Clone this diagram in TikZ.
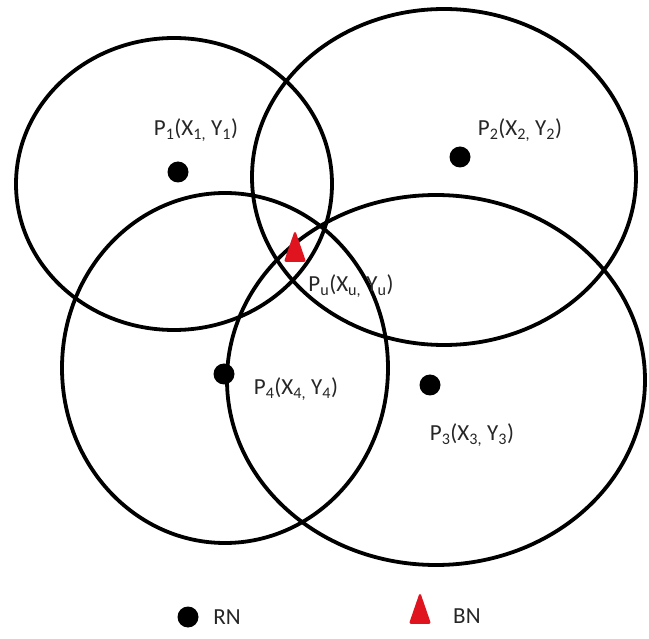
\documentclass[tikz,border=0pt]{standalone}
\usepackage{fontspec}
\setmainfont{Carlito}
\usetikzlibrary{shapes.geometric, positioning}
\definecolor{cred}{HTML}{E0141E}
\definecolor{ctext}{HTML}{262626}
\tikzset{
  every picture/.style={font=\fontsize{23}{27}\selectfont, line width=3.8pt},
  ring/.style={draw=black, line width=3.8pt},
  rn/.style={circle, fill=black, inner sep=0pt, minimum size=21pt},
  bn/.style={isosceles triangle, isosceles triangle apex angle=38, shape border rotate=90, fill=cred, draw=cred, line width=1.5pt, rounded corners=1pt, inner sep=0pt, minimum height=29pt, minimum width=20pt},
  lbl/.style={text=ctext, inner sep=1pt},
}
\newcommand{\plabel}[3]{P\textsubscript{#1}(X\textsubscript{#2,} Y\textsubscript{#3})}

\begin{document}
\begin{tikzpicture}[x=1pt, y=-1pt]
  \useasboundingbox (0,0) rectangle (649,639);
  % range circles
  \draw[ring] (174,184) ellipse [x radius=158, y radius=146];
  \draw[ring] (444,177) ellipse [x radius=192, y radius=168];
  \draw[ring] (436,380) ellipse [x radius=209, y radius=185];
  \draw[ring] (225,368) ellipse [x radius=163, y radius=175];
  % reference nodes
  \node[rn] (p1) at (178,172) {};
  \node[rn] (p2) at (460,157) {};
  \node[rn] (p3) at (430,385) {};
  \node[rn] (p4) at (224,374) {};
  \node[lbl] (l1) at (196,130) {\plabel{1}{1}{1}};
  \node[lbl] (l2) at (520,130) {\plabel{2}{2}{2}};
  \node[lbl] (l3) at (472,435) {\plabel{3}{3}{3}};
  \node[lbl] (l4) at (296,389) {\plabel{4}{4}{4}};
  % blind node
  \node[bn] (pu) at (295,254) {};
  \node[lbl] (lu) at (351,286) {\plabel{u}{u}{u}};
  % legend
  \node[rn] (krn) at (188,617) {};
  \node[lbl, right=10pt of krn] (trn) {RN};
  \node[bn] (kbn) at (420,616) {};
  \node[lbl, right=22pt of kbn] (tbn) {BN};
\end{tikzpicture}
\end{document}
